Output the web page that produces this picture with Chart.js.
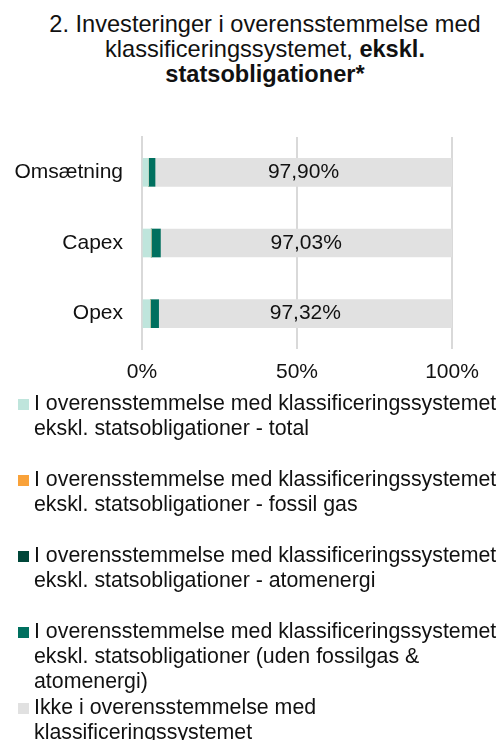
<!DOCTYPE html>
<html lang="da">
<head>
<meta charset="utf-8">
<script src="https://cdn.jsdelivr.net/npm/chart.js@4/dist/chart.umd.min.js"></script>
<style>
  html, body { margin: 0; padding: 0; background: #fff; }
  body { width: 500px; height: 740px; position: relative; overflow: hidden; font-family: "Liberation Sans", Arial, sans-serif; color: #111; }
  #title { position: absolute; top: 12px; left: 30px; width: 470px; text-align: center; font-size: 23.6px; line-height: 25px; white-space: nowrap; }
  #wrap { position: absolute; left: 0; top: 120px; width: 500px; height: 280px; }
  #legend { position: absolute; left: 0; top: 391px; width: 500px; margin: 0; padding: 0; list-style: none; font-size: 21.33px; line-height: 25px; }
  #legend li { position: relative; height: 76px; padding-left: 34px; white-space: nowrap; }
  #legend .box { position: absolute; left: 18px; top: 8px; width: 11px; height: 11px; }
</style>
</head>
<body>
<div id="title">2. Investeringer i overensstemmelse med<br>klassificeringssystemet, <b>ekskl.</b><br><b>statsobligationer*</b></div>
<div id="wrap"><canvas id="chart"></canvas></div>
<ul id="legend"></ul>
<script>
"use strict";

const categories = ["Omsætning", "Capex", "Opex"];
const totalAligned = [2.10, 2.97, 2.68];
const fossilGas = [0, 0, 0];
const nuclear = [0, 0, 0];
const alignedOther = [2.10, 2.97, 2.68];
const notAligned = [97.90, 97.03, 97.32];
const xTicks = [0, 50, 100];

const legendLines = [
  ["I overensstemmelse med klassificeringssystemet", "ekskl. statsobligationer - total"],
  ["I overensstemmelse med klassificeringssystemet", "ekskl. statsobligationer - fossil gas"],
  ["I overensstemmelse med klassificeringssystemet", "ekskl. statsobligationer - atomenergi"],
  ["I overensstemmelse med klassificeringssystemet", "ekskl. statsobligationer (uden fossilgas &", "atomenergi)"],
  ["Ikke i overensstemmelse med", "klassificeringssystemet"],
];

const FONT = "'Liberation Sans', Arial, sans-serif";
const fmtPct = (v) => v.toFixed(2).replace(".", ",") + "%";

// value label centred on the visible part of the grey bar
const centerLabels = {
  id: "centerLabels",
  afterDatasetsDraw(chart) {
    const { ctx, chartArea } = chart;
    const meta = chart.getDatasetMeta(chart.data.datasets.length - 1);
    ctx.save();
    ctx.font = "21px " + FONT;
    ctx.fillStyle = "#111";
    ctx.textAlign = "center";
    ctx.textBaseline = "middle";
    meta.data.forEach((bar, i) => {
      const right = Math.min(bar.x, chartArea.right);
      ctx.fillText(fmtPct(notAligned[i]), (bar.base + right) / 2, bar.y);
    });
    ctx.restore();
  },
};

const chart = new Chart(document.getElementById("chart"), {
  type: "bar",
  data: {
    labels: categories,
    datasets: [
      { label: legendLines[0].join(" "), data: totalAligned, backgroundColor: "#bfe5dc" },
      { label: legendLines[1].join(" "), data: fossilGas, backgroundColor: "#f9a23a" },
      { label: legendLines[2].join(" "), data: nuclear, backgroundColor: "#00473a" },
      { label: legendLines[3].join(" "), data: alignedOther, backgroundColor: "#00705f" },
      { label: legendLines[4].join(" "), data: notAligned, backgroundColor: "#e1e1e1" },
    ],
  },
  options: {
    indexAxis: "y",
    responsive: true,
    maintainAspectRatio: false,
    animation: false,
    layout: { padding: { top: 17, right: 48, left: 0, bottom: 0 } },
    datasets: { bar: { barThickness: 28, borderWidth: 0, clip: 0 } },
    plugins: { legend: { display: false }, tooltip: { enabled: false } },
    scales: {
      x: {
        stacked: true,
        min: 0,
        max: 100,
        afterBuildTicks: (s) => { s.ticks = xTicks.map((v) => ({ value: v })); },
        afterFit: (s) => { s.height = 51; },
        ticks: { color: "#111", font: { family: FONT, size: 21 }, padding: 11, callback: (v) => v + "%" },
        grid: { color: "#d9d9d9", lineWidth: 2, drawTicks: false },
        border: { display: false },
      },
      y: {
        stacked: true,
        afterFit: (s) => { s.width = 142; s.paddingTop = 0; s.paddingBottom = 0; },
        ticks: { color: "#111", font: { family: FONT, size: 21 }, padding: 19 },
        grid: { display: false, drawTicks: false },
        border: { display: true, color: "#d9d9d9", width: 2 },
      },
    },
  },
  plugins: [centerLabels],
});

document.getElementById("legend").innerHTML = chart.data.datasets
  .map((d, i) => `<li><span class="box" style="background:${d.backgroundColor}"></span>${legendLines[i].join("<br>")}</li>`)
  .join("");
</script>
</body>
</html>
